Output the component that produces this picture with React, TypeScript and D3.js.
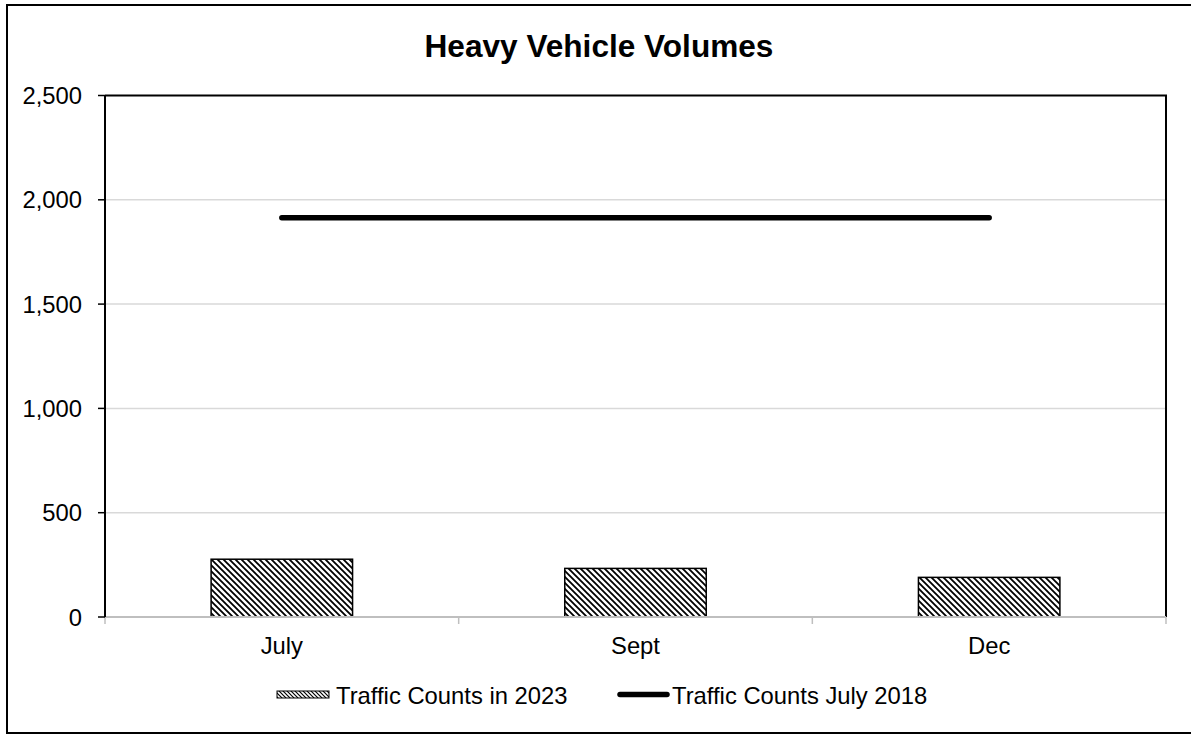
import { useRef, useEffect } from 'react'
import * as d3 from 'd3'

const categories = ['July', 'Sept', 'Dec']
const counts2023 = [277, 233, 190]
const counts2018 = [1914, 1914, 1914]
const yTicks = [0, 500, 1000, 1500, 2000, 2500]
const seriesNames = ['Traffic Counts in 2023', 'Traffic Counts July 2018']

const FONT = 'Liberation Sans, Arial, sans-serif'
const LABEL_SIZE = '23.8px'

export default function App() {
  const svgRef = useRef<SVGSVGElement>(null)

  useEffect(() => {
    if (!svgRef.current) return

    const svg = d3.select(svgRef.current)
    svg.selectAll('*').remove()

    const width = 1191
    const height = 734
    const plot = { left: 105, right: 1166, top: 95.5, bottom: 617 }

    svg.attr('width', width).attr('height', height)

    // hatch pattern (dark downward diagonal)
    const defs = svg.append('defs')
    const pat = defs
      .append('pattern')
      .attr('id', 'hatch')
      .attr('patternUnits', 'userSpaceOnUse')
      .attr('width', 6)
      .attr('height', 6)
    pat.append('rect').attr('width', 6).attr('height', 6).attr('fill', '#fff')
    pat
      .append('path')
      .attr('d', 'M-1,-1 L7,7 M-1,5 L1,7 M5,-1 L7,1')
      .attr('stroke', '#000')
      .attr('stroke-width', 1.8)

    const smallPat = defs
      .append('pattern')
      .attr('id', 'hatch-small')
      .attr('patternUnits', 'userSpaceOnUse')
      .attr('width', 4)
      .attr('height', 4)
    smallPat.append('rect').attr('width', 4).attr('height', 4).attr('fill', '#fff')
    smallPat
      .append('path')
      .attr('d', 'M-1,-1 L5,5 M-1,3 L1,5 M3,-1 L5,1')
      .attr('stroke', '#000')
      .attr('stroke-width', 1.2)

    // background + outer frame
    svg.append('rect').attr('width', width).attr('height', height).attr('fill', '#fff')
    svg
      .append('rect')
      .attr('x', 7)
      .attr('y', 5)
      .attr('width', 1200)
      .attr('height', 728)
      .attr('fill', 'none')
      .attr('stroke', '#000')
      .attr('stroke-width', 2)

    // title
    svg
      .append('text')
      .attr('x', 599)
      .attr('y', 57)
      .attr('text-anchor', 'middle')
      .attr('font-family', FONT)
      .attr('font-weight', 'bold')
      .attr('font-size', '31.6px')
      .text('Heavy Vehicle Volumes')

    const x = d3
      .scaleBand<string>()
      .domain(categories)
      .range([plot.left, plot.right])
      .paddingInner(0.6)
      .paddingOuter(0.3)
    const step = x.step()

    const y = d3.scaleLinear().domain([0, 2500]).range([plot.bottom, plot.top])

    // gridlines
    svg
      .selectAll('.grid')
      .data(yTicks.filter((d) => d > 0 && d < 2500))
      .enter()
      .append('line')
      .attr('x1', plot.left)
      .attr('x2', plot.right)
      .attr('y1', (d) => y(d))
      .attr('y2', (d) => y(d))
      .attr('stroke', '#d9d9d9')
      .attr('stroke-width', 1.5)

    // plot frame top / right
    svg
      .append('path')
      .attr('d', `M${plot.left},${plot.top} H${plot.right} V${plot.bottom}`)
      .attr('fill', 'none')
      .attr('stroke', '#000')
      .attr('stroke-width', 2)

    // bars
    svg
      .selectAll('.bar')
      .data(counts2023)
      .enter()
      .append('rect')
      .attr('x', (_, i) => x(categories[i])!)
      .attr('y', (d) => y(d))
      .attr('width', x.bandwidth())
      .attr('height', (d) => y(0) - y(d))
      .attr('fill', 'url(#hatch)')
      .attr('stroke', '#000')
      .attr('stroke-width', 1.5)

    // x axis
    svg
      .append('line')
      .attr('x1', plot.left)
      .attr('x2', plot.right)
      .attr('y1', plot.bottom)
      .attr('y2', plot.bottom)
      .attr('stroke', '#bfbfbf')
      .attr('stroke-width', 2)

    const xTickPos = d3.range(categories.length + 1).map((i) => plot.left + i * step)
    svg
      .selectAll('.xtick')
      .data(xTickPos)
      .enter()
      .append('line')
      .attr('x1', (d) => d)
      .attr('x2', (d) => d)
      .attr('y1', plot.bottom)
      .attr('y2', plot.bottom + 7)
      .attr('stroke', '#bfbfbf')
      .attr('stroke-width', 1.5)

    svg
      .selectAll('.xlabel')
      .data(categories)
      .enter()
      .append('text')
      .attr('x', (d) => x(d)! + x.bandwidth() / 2)
      .attr('y', 654)
      .attr('text-anchor', 'middle')
      .attr('font-family', FONT)
      .attr('font-size', LABEL_SIZE)
      .text((d) => d)

    // y axis
    svg
      .append('line')
      .attr('x1', plot.left)
      .attr('x2', plot.left)
      .attr('y1', plot.top)
      .attr('y2', plot.bottom)
      .attr('stroke', '#000')
      .attr('stroke-width', 2)

    svg
      .selectAll('.ytick')
      .data(yTicks)
      .enter()
      .append('line')
      .attr('x1', plot.left - 7)
      .attr('x2', plot.left)
      .attr('y1', (d) => y(d))
      .attr('y2', (d) => y(d))
      .attr('stroke', '#000')
      .attr('stroke-width', 1.5)

    svg
      .selectAll('.ylabel')
      .data(yTicks)
      .enter()
      .append('text')
      .attr('x', 82)
      .attr('y', (d) => y(d) + 8.5)
      .attr('text-anchor', 'end')
      .attr('font-family', FONT)
      .attr('font-size', LABEL_SIZE)
      .text((d) => d3.format(',')(d))

    // 2018 line
    const line = d3
      .line<number>()
      .x((_, i) => x(categories[i])! + x.bandwidth() / 2)
      .y((d) => y(d))
    svg
      .append('path')
      .datum(counts2018)
      .attr('fill', 'none')
      .attr('stroke', '#000')
      .attr('stroke-width', 5.5)
      .attr('stroke-linecap', 'round')
      .attr('d', line)

    // legend
    const lg = svg.append('g')
    lg.append('rect')
      .attr('x', 277)
      .attr('y', 691)
      .attr('width', 52)
      .attr('height', 7)
      .attr('fill', 'url(#hatch-small)')
      .attr('stroke', '#000')
      .attr('stroke-width', 1)
    lg.append('text')
      .attr('x', 336)
      .attr('y', 704)
      .attr('font-family', FONT)
      .attr('font-size', LABEL_SIZE)
      .text(seriesNames[0])
    lg.append('line')
      .attr('x1', 620)
      .attr('x2', 667)
      .attr('y1', 694.5)
      .attr('y2', 694.5)
      .attr('stroke', '#000')
      .attr('stroke-width', 5.5)
      .attr('stroke-linecap', 'round')
    lg.append('text')
      .attr('x', 672)
      .attr('y', 704)
      .attr('font-family', FONT)
      .attr('font-size', LABEL_SIZE)
      .text(seriesNames[1])
  }, [])

  return <svg ref={svgRef} style={{ position: 'absolute', left: 0, top: 0, display: 'block' }} />
}
